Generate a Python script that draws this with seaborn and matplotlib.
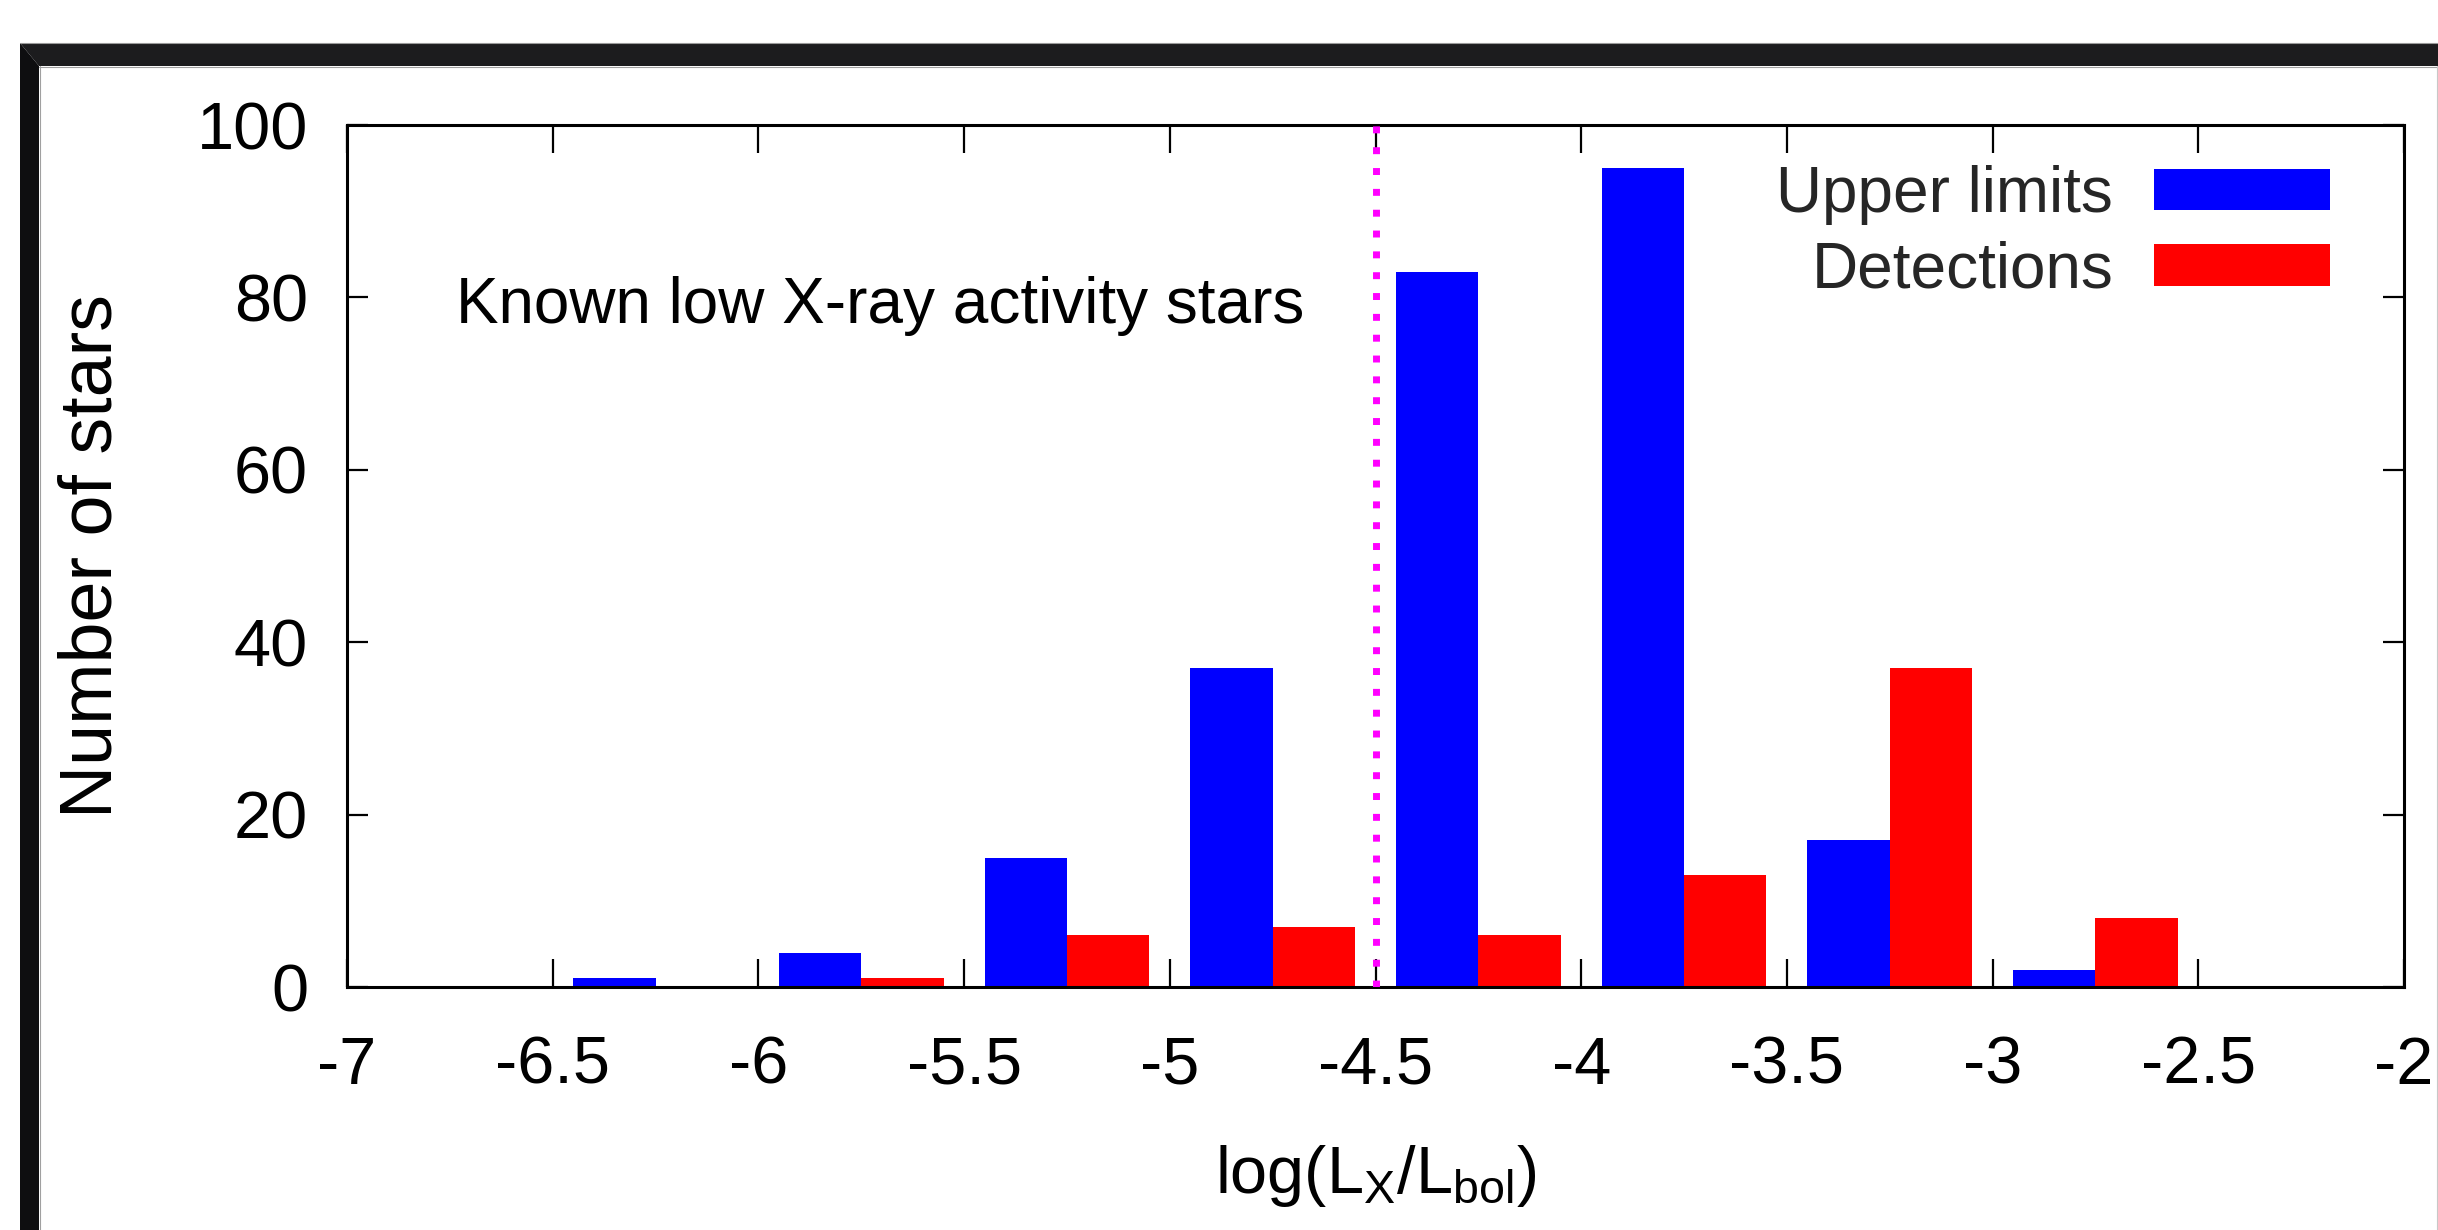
import matplotlib
matplotlib.use("Agg")
import matplotlib.pyplot as plt
import seaborn as sns
import pandas as pd
from matplotlib import font_manager as fm
from matplotlib.patches import Polygon
from matplotlib.lines import Line2D

# ---------------- data ----------------
bin_left = [-6.5, -6.0, -5.5, -5.0, -4.5, -4.0, -3.5, -3.0]
upper_limits = [1, 4, 15, 37, 83, 95, 17, 2]
detections = [0, 1, 6, 7, 6, 13, 37, 8]
series_names = ["Upper limits", "Detections"]
series_colors = ["#0000ff", "#ff0000"]
x_ticks = [-7, -6.5, -6, -5.5, -5, -4.5, -4, -3.5, -3, -2.5, -2]
x_tick_labels = ["-7", "-6.5", "-6", "-5.5", "-5", "-4.5", "-4", "-3.5", "-3", "-2.5", "-2"]
y_ticks = [0, 20, 40, 60, 80, 100]
threshold = -4.5
annotation = "Known low X-ray activity stars"

# bars sit in the right part of each 0.5-wide bin
bin_center = [b + 0.25 for b in bin_left]
df = pd.DataFrame({
    "x": bin_center * 2,
    "count": upper_limits + detections,
    "kind": [series_names[0]] * len(bin_left) + [series_names[1]] * len(bin_left),
})

# ---------------- style ----------------
sns.set_style("white")
names = {f.name for f in fm.fontManager.ttflist}
if "Liberation Sans Narrow" in names:
    hfam, hsize, tsize = "Liberation Sans Narrow", 53, 53
else:
    hfam, hsize, tsize = "Liberation Sans", 46, 48
vfam, vsize = "Liberation Sans", 53
plt.rcParams["font.family"] = [hfam, "DejaVu Sans"]
plt.rcParams["mathtext.fontset"] = "custom"
plt.rcParams["mathtext.rm"] = hfam
plt.rcParams["mathtext.it"] = hfam

W, H = 2438, 1230
fig = plt.figure(figsize=(W / 100, H / 100), dpi=100, facecolor="white")
ax_l, ax_r, ax_t, ax_b = 347, 2404, 125, 987
ax = fig.add_axes([ax_l / W, 1 - ax_b / H, (ax_r - ax_l) / W, (ax_b - ax_t) / H])
ax.set_facecolor("white")

sns.barplot(data=df, x="x", y="count", hue="kind", hue_order=series_names,
            palette=series_colors, native_scale=True, width=0.8, dodge=True,
            saturation=1, linewidth=0, errorbar=None, ax=ax)

ax.set_xlim(-7, -2)
ax.set_ylim(0, 100)
ax.set_xticks(x_ticks)
ax.set_xticklabels(x_tick_labels)
ax.set_yticks(y_ticks)
ax.set_yticklabels([str(v) for v in y_ticks])

for s in ax.spines.values():
    s.set_visible(True)
    s.set_color("black")
    s.set_linewidth(2.2)
ax.tick_params(axis="x", direction="in", length=20, width=1.6, top=True, bottom=True,
               pad=35, labelsize=tsize, colors="black")
ax.tick_params(axis="y", direction="in", length=15, width=1.6, left=True, right=True,
               pad=28, labelsize=tsize, colors="black")
for lab in ax.get_xticklabels() + ax.get_yticklabels():
    lab.set_family([hfam, "DejaVu Sans"])

# threshold line
ax.plot([threshold, threshold], [0, 100], color="#ff00ff", lw=5,
        linestyle=(0, (1, 2)), solid_capstyle="butt", dash_capstyle="butt", zorder=3)

# annotation
ax.text(-6.736, 77.0, annotation, ha="left", va="baseline", fontsize=hsize,
        family=[hfam, "DejaVu Sans"], color="black")

# labels
ax.set_xlabel(r"log(L$_{\mathrm{X}}$/L$_{\mathrm{bol}}$)", fontsize=hsize + 2,
              family=[hfam, "DejaVu Sans"], color="black")
ax.xaxis.label.set_va("baseline")
ax.xaxis.set_label_coords(0.5, (ax_b - 1193) / (ax_b - ax_t))
ax.set_ylabel("Number of stars", fontsize=vsize, family=[vfam, "DejaVu Sans"], color="black")
ax.yaxis.label.set_va("baseline")
ax.yaxis.set_label_coords((112 - ax_l) / (ax_r - ax_l), 0.5)

# legend (gnuplot style: text first, swatch after)
handles, labels = ax.get_legend_handles_labels()
if ax.get_legend() is not None:
    ax.get_legend().remove()
leg = fig.legend(handles, labels, loc="upper right",
                 bbox_to_anchor=(2330 / W, 1 - 165 / H), frameon=False,
                 markerfirst=False, handlelength=126.7 / hsize,
                 handleheight=28.5 / hsize, handletextpad=29.5 / hsize, labelspacing=0.24,
                 borderpad=0, borderaxespad=0, prop={"family": hfam, "size": hsize})

# ---------------- screenshot frame ----------------
def P(x, y):
    return (x / W, 1 - y / H)

fig.add_artist(Polygon([P(20, 43), P(W, 43), P(W, 66), P(39, 66)], closed=True,
                       facecolor="#1c1c1e", edgecolor="none", transform=fig.transFigure))
fig.add_artist(Polygon([P(20, 43), P(39, 66), P(39, H), P(20, H)], closed=True,
                       facecolor="#0e0e10", edgecolor="none", transform=fig.transFigure))
fig.add_artist(Line2D([20 / W, 1], [1 - 42.5 / H] * 2, color="#9a9a9a", lw=0.8,
                      transform=fig.transFigure))
fig.add_artist(Line2D([39 / W, 1], [1 - 66.5 / H] * 2, color="#a0a0a0", lw=0.8,
                      transform=fig.transFigure))
fig.add_artist(Line2D([39.5 / W] * 2, [0, 1 - 66 / H], color="#a0a0a0", lw=0.8,
                      transform=fig.transFigure))
fig.add_artist(Line2D([(W - 1.5) / W] * 2, [0, 1 - 66 / H], color="#c8c8c8", lw=0.8,
                      transform=fig.transFigure))

fig.savefig("out.png", dpi=100, facecolor="white")
